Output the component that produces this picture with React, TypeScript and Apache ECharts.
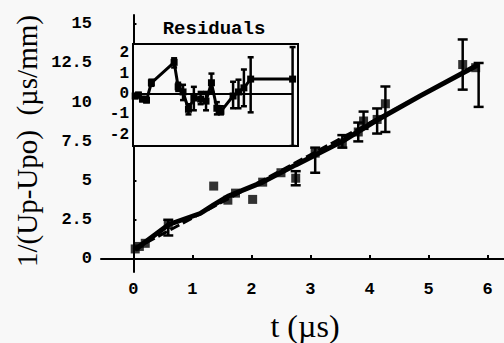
import React, { useEffect, useRef } from "react";
import * as echarts from "echarts";

// Main plot: axis ticks
const xTicks = [0, 1, 2, 3, 4, 5, 6];
const yTicks = [0, 2.5, 5, 7.5, 10, 12.5, 15];

// Main data points (t in µs, 1/(Up-Upo) in µs/mm)
const mainT = [0.03, 0.1, 0.2, 0.59, 1.36, 1.6, 1.73, 2.02, 2.19, 2.5, 2.75, 3.08, 3.54, 3.81, 3.9, 4.13, 4.27, 5.58, 5.8];
const mainV = [0.64, 0.8, 1.0, 2.2, 4.65, 3.75, 4.2, 3.8, 4.9, 5.5, 5.15, 6.75, 7.4, 8.1, 8.8, 8.9, 9.9, 12.4, 12.2];

// Main error bars
const errT = [0.59, 2.75, 3.08, 3.54, 3.81, 3.9, 4.13, 4.27, 5.58, 5.85];
const errLo = [1.5, 4.7, 5.5, 7.1, 7.5, 8.3, 8.0, 8.1, 10.8, 9.7];
const errHi = [2.5, 5.6, 7.1, 7.9, 8.7, 9.4, 9.6, 11.0, 14.0, 12.5];

// Thick connecting (smoothed) curve
const curveT = [0.03, 0.6, 1.13, 1.36, 1.6, 2.19, 2.75, 3.54, 4.1, 4.86, 5.85];
const curveV = [0.6, 2.2, 2.9, 3.45, 4.0, 4.9, 6.0, 7.5, 8.8, 10.4, 12.4];

// Dashed linear fit
const fitT = [0.0, 5.85];
const fitV = [0.6, 12.4];

// Residuals inset
const resTicks = [-2, -1, 0, 1, 2];
const resT = [0.03, 0.15, 0.3, 0.45, 0.63, 1.47, 1.62, 1.8, 2.0, 2.2, 2.45, 2.65, 2.85, 3.05, 3.2, 3.65, 3.85, 4.05, 4.3, 5.85];
const resV = [-0.1, -0.05, -0.25, -0.3, 0.55, 1.55, 0.35, 0.1, -0.75, -0.2, -0.25, -0.35, 0.55, -0.7, -0.85, -0.1, 0.1, 0.3, 0.73, 0.73];
const resLo = [-0.2, -0.15, -0.35, -0.4, 0.4, 1.3, 0.15, -0.3, -1.0, -0.8, -0.5, -0.8, 0.1, -1.0, -1.0, -0.7, -0.7, -0.6, -0.9, -2.55];
const resHi = [0.0, 0.05, -0.15, -0.2, 0.7, 1.75, 0.55, 0.45, -0.5, 0.35, 0.1, 0.1, 1.0, -0.4, -0.6, 0.6, 0.7, 1.2, 1.8, 2.3];
const zeroT = [0.0, 5.85];

const MONO = "Liberation Mono";
const SERIF = "Liberation Serif";

function errRender(cap: number, width: number) {
  return (params: any, api: any) => {
    const x = api.value(0);
    const lo = api.value(1);
    const hi = api.value(2);
    const p1 = api.coord([x, lo]);
    const p2 = api.coord([x, hi]);
    const st = { stroke: "#000", lineWidth: width };
    return {
      type: "group",
      children: [
        { type: "line", shape: { x1: p1[0], y1: p1[1], x2: p2[0], y2: p2[1] }, style: st },
        { type: "line", shape: { x1: p1[0] - cap, y1: p1[1], x2: p1[0] + cap, y2: p1[1] }, style: st },
        { type: "line", shape: { x1: p2[0] - cap, y1: p2[1], x2: p2[0] + cap, y2: p2[1] }, style: st },
      ],
    };
  };
}

export default function App() {
  const ref = useRef<HTMLDivElement>(null);
  useEffect(() => {
    if (!ref.current) return;
    const chart = echarts.init(ref.current, undefined, { renderer: "svg" });
    const pairs = (a: number[], b: number[]) => a.map((t, i) => [t, b[i]]);
    const triples = (a: number[], b: number[], c: number[]) => a.map((t, i) => [t, b[i], c[i]]);
    chart.setOption({
      animation: false,
      backgroundColor: "#f8f8f8",
      grid: [
        { left: 101, top: 15, width: 403, height: 257 },
        {
          left: 133, top: 44, width: 165, height: 102, show: true,
          borderColor: "#000", borderWidth: 2, backgroundColor: "#f8f8f8", z: 5,
        },
      ],
      xAxis: [
        {
          type: "value", gridIndex: 0, min: -0.55, max: 6.28,
          axisLine: { lineStyle: { color: "#000", width: 2 } },
          axisTick: { customValues: xTicks, inside: true, length: 4, lineStyle: { color: "#000", width: 2 } },
          axisLabel: { customValues: xTicks, color: "#000", fontFamily: MONO, fontWeight: "bold", fontSize: 17, margin: 9 },
          splitLine: { show: false },
        },
        {
          type: "value", gridIndex: 1, min: -0.05, max: 6.05,
          axisLine: { show: false }, axisTick: { show: false }, axisLabel: { show: false },
          splitLine: { show: false },
        },
      ],
      yAxis: [
        {
          type: "value", gridIndex: 0, min: -0.83, max: 15.56,
          axisLine: { show: true, lineStyle: { color: "#000", width: 2 } },
          axisTick: { show: true, customValues: yTicks, inside: true, length: 3, lineStyle: { color: "#000", width: 2 } },
          axisLabel: { customValues: yTicks, color: "#000", fontFamily: MONO, fontWeight: "bold", fontSize: 17, margin: 9 },
          splitLine: { show: false },
        },
        {
          type: "value", gridIndex: 1, min: -2.55, max: 2.45,
          axisLine: { show: false },
          axisTick: { show: true, customValues: resTicks, inside: true, length: 3, lineStyle: { color: "#000", width: 2 } },
          axisLabel: { customValues: resTicks, color: "#000", fontFamily: MONO, fontWeight: "bold", fontSize: 16, margin: 4 },
          splitLine: { show: false },
        },
      ],
      series: [
        {
          type: "line", xAxisIndex: 0, yAxisIndex: 0, data: pairs(curveT, curveV),
          symbol: "none", lineStyle: { color: "#000", width: 5 }, z: 3,
        },
        {
          type: "line", xAxisIndex: 0, yAxisIndex: 0, data: pairs(fitT, fitV),
          symbol: "none", lineStyle: { color: "#000", width: 3, type: [10, 4] }, z: 3,
        },
        {
          type: "custom", xAxisIndex: 0, yAxisIndex: 0, data: triples(errT, errLo, errHi),
          renderItem: errRender(5, 2.5), z: 4,
        },
        {
          type: "scatter", xAxisIndex: 0, yAxisIndex: 0, data: pairs(mainT, mainV),
          symbol: "rect", symbolSize: 9, itemStyle: { color: "#000" }, z: 5,
        },
        {
          type: "line", xAxisIndex: 1, yAxisIndex: 1, data: pairs(zeroT, [0, 0]),
          symbol: "none", lineStyle: { color: "#000", width: 2 }, z: 6,
        },
        {
          type: "line", xAxisIndex: 1, yAxisIndex: 1, data: pairs(resT, resV),
          symbol: "rect", symbolSize: 7, itemStyle: { color: "#000" },
          lineStyle: { color: "#000", width: 3 }, z: 7,
        },
        {
          type: "custom", xAxisIndex: 1, yAxisIndex: 1, data: triples(resT, resLo, resHi),
          renderItem: errRender(3, 2.5), z: 7, clip: true,
        },
      ],
      graphic: [
        {
          type: "text", x: 214, y: 29,
          style: { text: "Residuals", font: `bold 19px "${MONO}"`, fill: "#000", align: "center", verticalAlign: "middle" },
        },
        {
          type: "text", x: 305, y: 326,
          style: { text: "t (µs)", font: `32px "${SERIF}"`, fill: "#000", align: "center", verticalAlign: "middle" },
        },
        {
          type: "text", x: 27, y: 141, rotation: Math.PI / 2,
          style: { text: "1/(Up-Upo)  (µs/mm)", font: `29px "${SERIF}"`, fill: "#000", align: "center", verticalAlign: "middle" },
        },
      ],
    });
    return () => chart.dispose();
  }, []);
  return <div ref={ref} style={{ position: "absolute", left: 0, top: 0, width: 504, height: 343 }} />;
}
